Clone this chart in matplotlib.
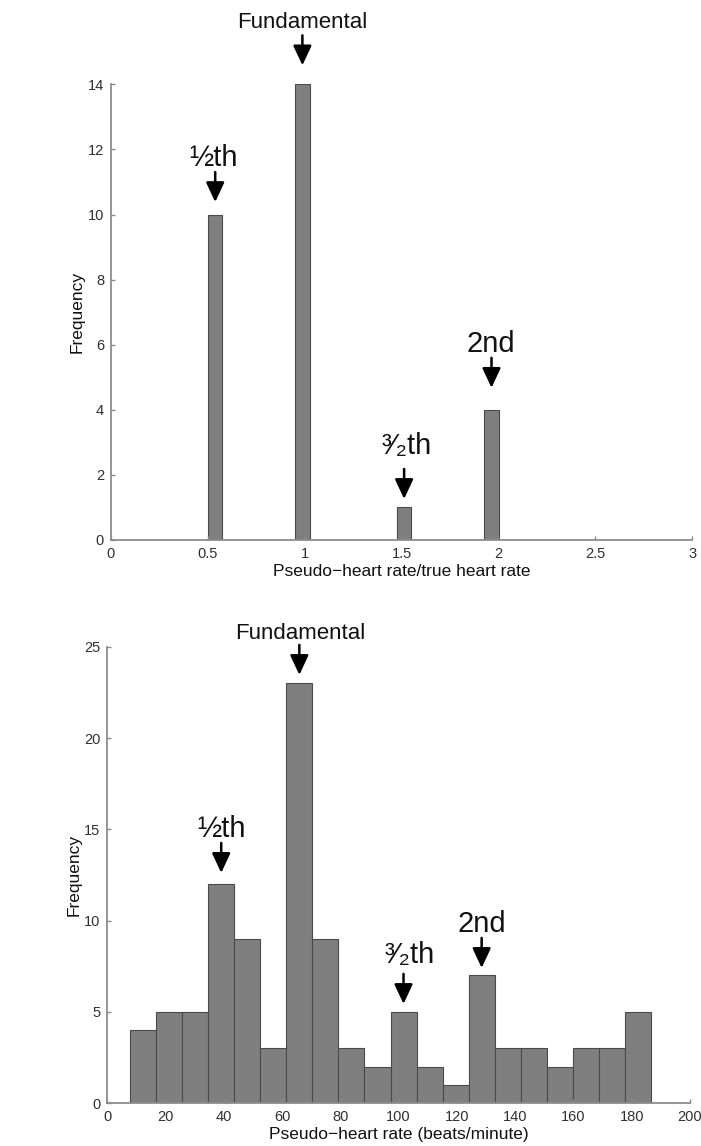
import numpy as np
import matplotlib
matplotlib.use("Agg")
import matplotlib.pyplot as plt
from matplotlib.transforms import offset_copy

plt.rcParams['font.family'] = ['Liberation Sans', 'DejaVu Sans']

# Upper panel: ratio of pseudo-heart rate to true heart rate
ratio_centers = [0.538, 0.988, 1.513, 1.964]
ratio_counts = [10, 14, 1, 4]
ratio_bin_width = 0.075
ratio_labels = ['½th', 'Fundamental', '³⁄₂th', '2nd']

# Lower panel: histogram of pseudo-heart rate in beats per minute
bpm_range = (7.8, 186.6)
bpm_counts = [4, 5, 5, 12, 9, 3, 23, 9, 3, 2, 5, 2, 1, 7, 3, 3, 2, 3, 3, 5]
bpm_marked_bins = [3, 6, 10, 13]
bpm_labels = ['½th', 'Fundamental', '³⁄₂th', '2nd']

BAR_FACE = '#7f7f7f'
BAR_EDGE = '#4a4a4a'
AXIS_GRAY = '#8c8c8c'
TEXT_GRAY = '#303030'

fig = plt.figure(figsize=(7.01, 11.46), dpi=100)
ax1 = fig.add_axes([0.1583, 0.5288, 0.8292, 0.3976])
ax2 = fig.add_axes([0.1531, 0.0373, 0.8312, 0.3984])


def style_axes(ax):
    for side in ('top', 'right'):
        ax.spines[side].set_visible(False)
    for side in ('left', 'bottom'):
        ax.spines[side].set_color(AXIS_GRAY)
        ax.spines[side].set_linewidth(1.3)
    ax.tick_params(direction='in', length=3, width=1, color=AXIS_GRAY,
                   labelcolor=TEXT_GRAY, labelsize=10.5, pad=5)


def mark(ax, x, count, label, gap, base, dx=0, size=21):
    """Arrow pointing down at a bar plus its label, offsets in pixels."""
    tip = offset_copy(ax.transData, fig=fig, y=gap, units='dots')
    tail = offset_copy(ax.transData, fig=fig, y=gap + 30, units='dots')
    ax.annotate('', xy=(x, count), xycoords=tip, xytext=(x, count),
                textcoords=tail, annotation_clip=False,
                arrowprops=dict(arrowstyle='-|>,head_length=0.6,head_width=0.28',
                                mutation_scale=20, color='black', lw=1.8,
                                shrinkA=0, shrinkB=0))
    ax.annotate(label, xy=(x, count), xytext=(dx * 0.72, base * 0.72),
                textcoords='offset points', ha='center', va='baseline',
                fontsize=size, color='#111111', annotation_clip=False)


# ---- upper panel ----
ax1.bar(ratio_centers, ratio_counts, width=ratio_bin_width,
        color=BAR_FACE, edgecolor=BAR_EDGE, linewidth=0.8)
ax1.set_xlim(0, 3)
ax1.set_ylim(0, 14)
ax1.set_xticks([0, 0.5, 1, 1.5, 2, 2.5, 3])
ax1.set_xticklabels(['0', '0.5', '1', '1.5', '2', '2.5', '3'])
ax1.set_yticks(range(0, 15, 2))
style_axes(ax1)
ax1.set_xlabel('Pseudo\u2212heart rate/true heart rate', fontsize=12.5,
               color='#111111', labelpad=2)
ax1.set_ylabel('Frequency', fontsize=12.5, color='#111111', labelpad=2)

top_marks = [  # gap above bar, text baseline above bar, x shift
    (12.5, 48.5, -2, 21),
    (19.0, 56.0, 0, 16),
    (8.5, 53.5, 3, 21),
    (22.0, 58.3, -1, 21),
]
for xc, cnt, lab, (gap, base, dx, size) in zip(ratio_centers, ratio_counts,
                                                ratio_labels, top_marks):
    mark(ax1, xc, cnt, lab, gap, base, dx, size)

# ---- lower panel ----
edges = np.linspace(bpm_range[0], bpm_range[1], len(bpm_counts) + 1)
ax2.bar(edges[:-1], bpm_counts, width=np.diff(edges), align='edge',
        color=BAR_FACE, edgecolor=BAR_EDGE, linewidth=0.8)
ax2.set_xlim(0, 200)
ax2.set_ylim(0, 25)
ax2.set_xticks(range(0, 201, 20))
ax2.set_yticks(range(0, 26, 5))
style_axes(ax2)
ax2.set_xlabel('Pseudo\u2212heart rate (beats/minute)', fontsize=12.5,
               color='#111111', labelpad=2)
ax2.set_ylabel('Frequency', fontsize=12.5, color='#111111', labelpad=2)

centers = 0.5 * (edges[:-1] + edges[1:])
bottom_marks = [
    (11.2, 47.2, 0, 21),
    (8.3, 44.0, 1, 16),
    (8.0, 48.7, 6, 21),
    (7.5, 43.2, 0, 21),
]
for b, lab, (gap, base, dx, size) in zip(bpm_marked_bins, bpm_labels,
                                         bottom_marks):
    mark(ax2, centers[b], bpm_counts[b], lab, gap, base, dx, size)

fig.savefig('out.png', dpi=100, facecolor='white')
